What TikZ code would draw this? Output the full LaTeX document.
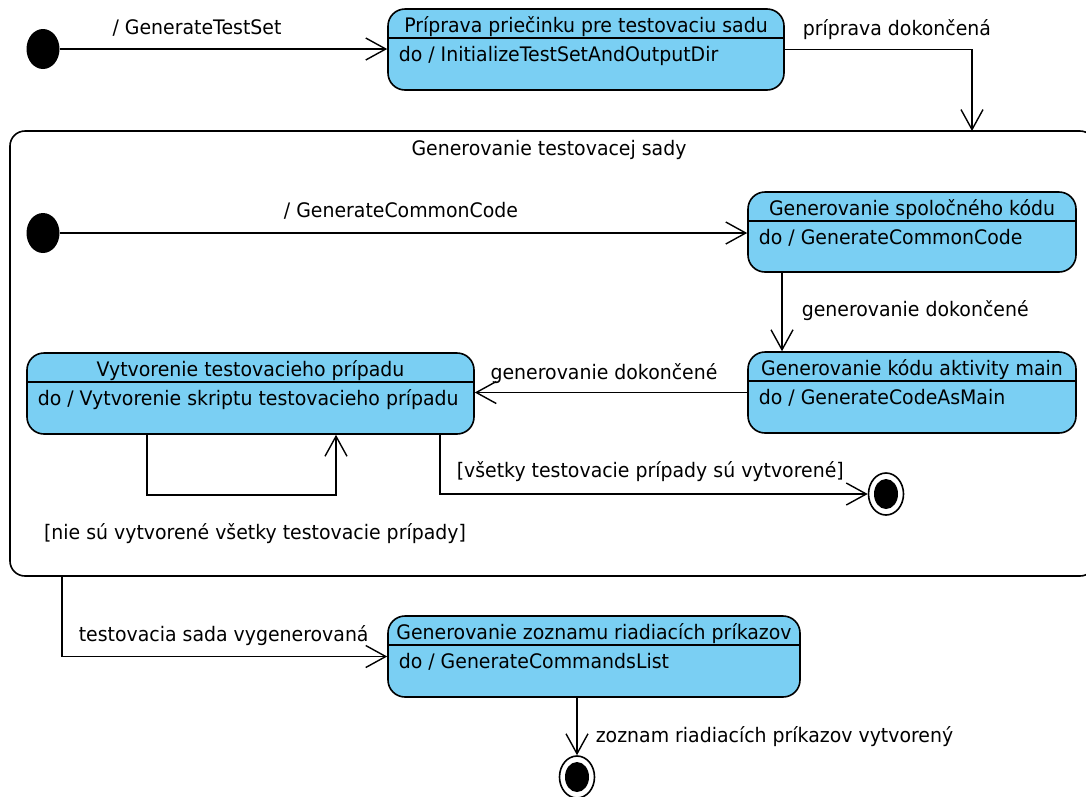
\documentclass[tikz,border=0pt]{standalone}
\usepackage{fontspec}
\setmainfont[FakeStretch=0.945]{DejaVu Sans}
\usetikzlibrary{arrows.meta,shapes.geometric}
\definecolor{statefill}{RGB}{122,207,243}

% state box: name, x1, y1, x2, y2, title, do-activity
\newcommand\umlstate[7]{%
  \node[statebox, minimum width={(#4-#2)*1pt}, minimum height={(#5-#3)*1pt}]
    (#1) at ({(#2+#4)/2},{(#3+#5)/2}) {};
  \draw[line width=1.4pt] (#2,{#3+29}) -- (#4,{#3+29});
  \node[lbl] (#1-t) at ({(#2+#4)/2},{#3+21}) {#6};
  \node[lblw] (#1-d) at ({#2+10},{#3+50}) {#7};
}

\begin{document}
\begin{tikzpicture}[x=1pt,y=-1pt,
  font=\fontsize{20}{23}\selectfont,
  line width=1.6pt,
  tr/.style={draw, -{Straight Barb[length=20pt,width=22pt,line width=1.4pt]}},
  statebox/.style={draw, fill=statefill, rounded corners=17pt, line width=1.6pt, inner sep=0pt},
  lbl/.style={inner sep=0pt, anchor=mid},
  lblw/.style={inner sep=0pt, anchor=mid west},
  initstate/.style={ellipse, fill=black, minimum width=33pt, minimum height=40pt, inner sep=0pt},
  finalring/.style={ellipse, draw, fill=white, line width=1.6pt, minimum width=35pt, minimum height=42pt, inner sep=0pt},
  finaldot/.style={ellipse, fill=black, minimum width=24pt, minimum height=30pt, inner sep=0pt},
]
\useasboundingbox (0,0) rectangle (1086,796);
\clip (0,0) rectangle (1086,796);

% composite state
\node[draw, rounded corners=15pt, line width=1.6pt, minimum width=1085pt, minimum height=445pt, inner sep=0pt]
  (comp) at (552.5,353.5) {};
\node[lbl] (comp-t) at (549,153) {Generovanie testovacej sady};

% initial and final pseudostates
\node[initstate] (i1) at (43,49) {};
\node[initstate] (i2) at (43,233) {};
\node[finalring] (f1) at (886,494) {};
\node[finaldot] (f1-in) at (f1) {};
\node[finalring] (f2) at (577,777) {};
\node[finaldot] (f2-in) at (f2) {};

% states
\umlstate{s1}{388}{9}{784}{90}{Príprava priečinku pre testovaciu sadu}{do / InitializeTestSetAndOutputDir}
\umlstate{s2}{748}{192}{1076}{272}{Generovanie spoločného kódu}{do / GenerateCommonCode}
\umlstate{s3}{748}{352}{1076}{433}{Generovanie kódu aktivity main}{do / GenerateCodeAsMain}
\umlstate{s4}{27}{353}{474}{434}{Vytvorenie testovacieho prípadu}{do / Vytvorenie skriptu testovacieho prípadu}
\umlstate{s5}{388}{616}{800}{697}{Generovanie zoznamu riadiacích príkazov}{do / GenerateCommandsList}

% transitions
\coordinate (c1) at (972,131);
\draw[tr] (i1.east) -- (i1.east -| s1.west);
\draw[tr] (s1.east) -| (c1);
\draw[tr] (i2.east) -- (i2.east -| s2.west);
\draw[tr] ([xshift=-130pt]s2.south) -- ([xshift=-130pt]s3.north);
\draw[tr] (s3.west) -- (s3.west -| s4.east);
\draw[tr] ([xshift=-103.5pt]s4.south) -- ++(0,60) -| ([xshift=85.5pt]s4.south);
\draw[tr] ([xshift=189.5pt]s4.south) |- (f1.west);
\draw[tr] ([xshift=-490.5pt]comp.south) |- (s5.west);
\draw[tr] ([xshift=-17pt]s5.south) -- (f2.north);

% transition labels
\node[lbl]  (l1) at (197,32) {/ GenerateTestSet};
\node[lblw] (l2) at (802,33) {príprava dokončená};
\node[lbl]  (l3) at (401,215) {/ GenerateCommonCode};
\node[lblw] (l4) at (801,314) {generovanie dokončené};
\node[lbl]  (l5) at (604,377) {generovanie dokončené};
\node[lbl]  (l6) at (255,537) {[nie sú vytvorené všetky testovacie prípady]};
\node[lblw] (l7) at (456,475) {[všetky testovacie prípady sú vytvorené]};
\node[lblw] (l8) at (78,639) {testovacia sada vygenerovaná};
\node[lblw] (l9) at (595,740) {zoznam riadiacích príkazov vytvorený};
\end{tikzpicture}
\end{document}
